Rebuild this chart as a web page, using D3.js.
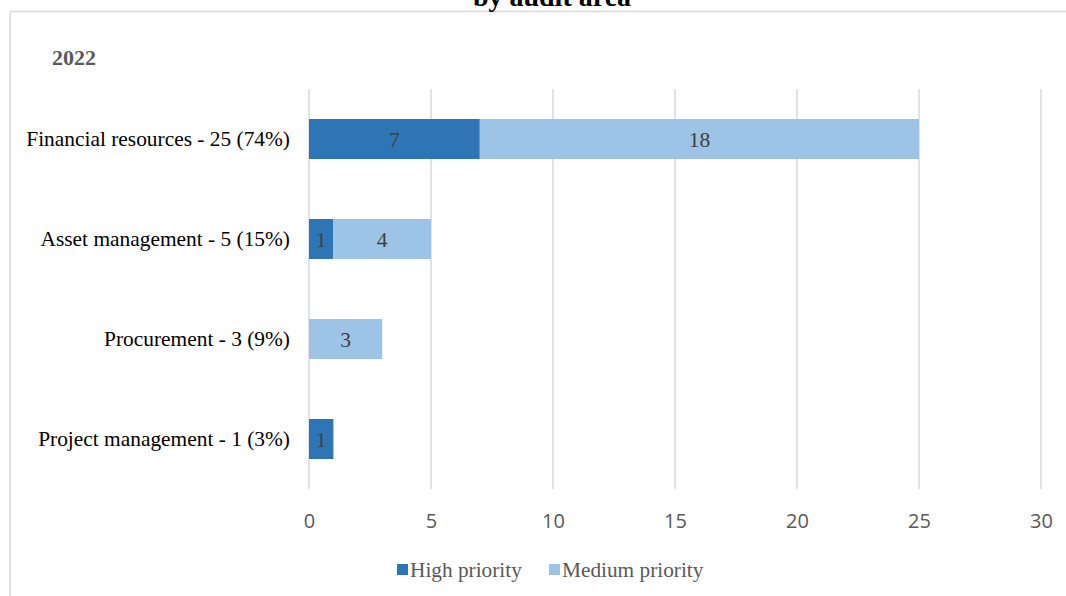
<!DOCTYPE html>
<html>
<head>
<meta charset="utf-8">
<script src="https://cdn.jsdelivr.net/npm/d3@7"></script>
<style>
  html, body { margin: 0; padding: 0; background: #fff; }
  svg { display: block; }
</style>
</head>
<body>
<svg id="chart" width="1066" height="596"></svg>
<script>
// Audit findings by area, split by priority
const categories = [
  "Financial resources - 25 (74%)",
  "Asset management - 5 (15%)",
  "Procurement - 3 (9%)",
  "Project management - 1 (3%)"
];
const highPriority = [7, 1, 0, 1];
const mediumPriority = [18, 4, 3, 0];
const seriesNames = ["High priority", "Medium priority"];
const xTicks = [0, 5, 10, 15, 20, 25, 30];

const colors = ["#2E75B6", "#9DC3E6"];
const serif = "'Liberation Serif', 'Times New Roman', serif";

const svg = d3.select("#chart");
const W = 1066, H = 596;

// Outer frame (top and left edges visible)
svg.append("line").attr("x1", 10).attr("x2", W).attr("y1", 11.5).attr("y2", 11.5)
  .attr("stroke", "#d9d9d9").attr("stroke-width", 1.5);
svg.append("line").attr("x1", 10).attr("x2", 10).attr("y1", 11.5).attr("y2", H)
  .attr("stroke", "#d9d9d9").attr("stroke-width", 1.5);

// Title (its upper part runs off the top edge)
svg.append("text").attr("x", 552).attr("y", 6)
  .attr("text-anchor", "middle")
  .attr("font-family", serif)
  .attr("font-weight", "bold").attr("font-size", 28).attr("fill", "#000")
  .text("by audit area");

svg.append("text").attr("x", 52).attr("y", 65)
  .attr("font-family", serif)
  .attr("font-weight", "bold").attr("font-size", 22).attr("fill", "#595959")
  .text("2022");

const plot = { left: 309, right: 1041, top: 89, bottom: 489 };

const x = d3.scaleLinear().domain([0, 30]).range([plot.left, plot.right]);
const y = d3.scaleBand().domain(categories).range([plot.top, plot.bottom]).paddingInner(0.6).paddingOuter(0.3);

// Vertical gridlines
svg.append("g").selectAll("line").data(xTicks).join("line")
  .attr("x1", d => x(d)).attr("x2", d => x(d))
  .attr("y1", plot.top).attr("y2", plot.bottom)
  .attr("stroke", "#d9d9d9").attr("stroke-width", 1.5);

// x axis tick labels
const xAxis = d3.axisBottom(x).tickValues(xTicks).tickSize(0).tickPadding(0);
const gx = svg.append("g").attr("transform", `translate(0,${plot.bottom + 32})`).call(xAxis);
gx.select(".domain").remove();
gx.selectAll("text")
  .attr("font-family", "'Open Sans', 'Liberation Sans', sans-serif")
  .attr("font-size", 20).attr("fill", "#595959").attr("dy", "0.35em");

// y axis category labels
const yAxis = d3.axisLeft(y).tickSize(0).tickPadding(19);
const gy = svg.append("g").attr("transform", `translate(${plot.left},0)`).call(yAxis);
gy.select(".domain").remove();
gy.selectAll("text")
  .attr("font-family", serif)
  .attr("font-size", 21.4).attr("fill", "#000");

// Stacked data
const rows = categories.map((c, i) => ({ cat: c, high: highPriority[i], medium: mediumPriority[i] }));
const stack = d3.stack().keys(["high", "medium"]);
const stacked = stack(rows);

const groups = svg.append("g").selectAll("g").data(stacked).join("g")
  .attr("fill", (d, i) => colors[i]);

groups.selectAll("rect").data(d => d.filter(s => s[1] - s[0] > 0)).join("rect")
  .attr("x", d => x(d[0]))
  .attr("y", d => y(d.data.cat))
  .attr("width", d => x(d[1]) - x(d[0]))
  .attr("height", y.bandwidth());

// Data labels
const labels = svg.append("g");
stacked.forEach(layer => {
  layer.forEach(s => {
    const v = s[1] - s[0];
    if (v <= 0) return;
    labels.append("text")
      .attr("x", (x(s[0]) + x(s[1])) / 2)
      .attr("y", y(s.data.cat) + y.bandwidth() / 2)
      .attr("dy", "0.35em")
      .attr("text-anchor", "middle")
      .attr("font-family", serif)
      .attr("font-size", 21.5).attr("fill", "#404040")
      .text(v);
  });
});

// Legend
const legend = svg.append("g");
const legendItems = [
  { name: seriesNames[0], color: colors[0], x: 397 },
  { name: seriesNames[1], color: colors[1], x: 549 }
];
legendItems.forEach(item => {
  legend.append("rect").attr("x", item.x).attr("y", 564).attr("width", 11).attr("height", 11)
    .attr("fill", item.color);
  legend.append("text").attr("x", item.x + 13).attr("y", 577)
    .attr("font-family", serif)
    .attr("font-size", 21.3).attr("fill", "#595959")
    .text(item.name);
});
</script>
</body>
</html>
